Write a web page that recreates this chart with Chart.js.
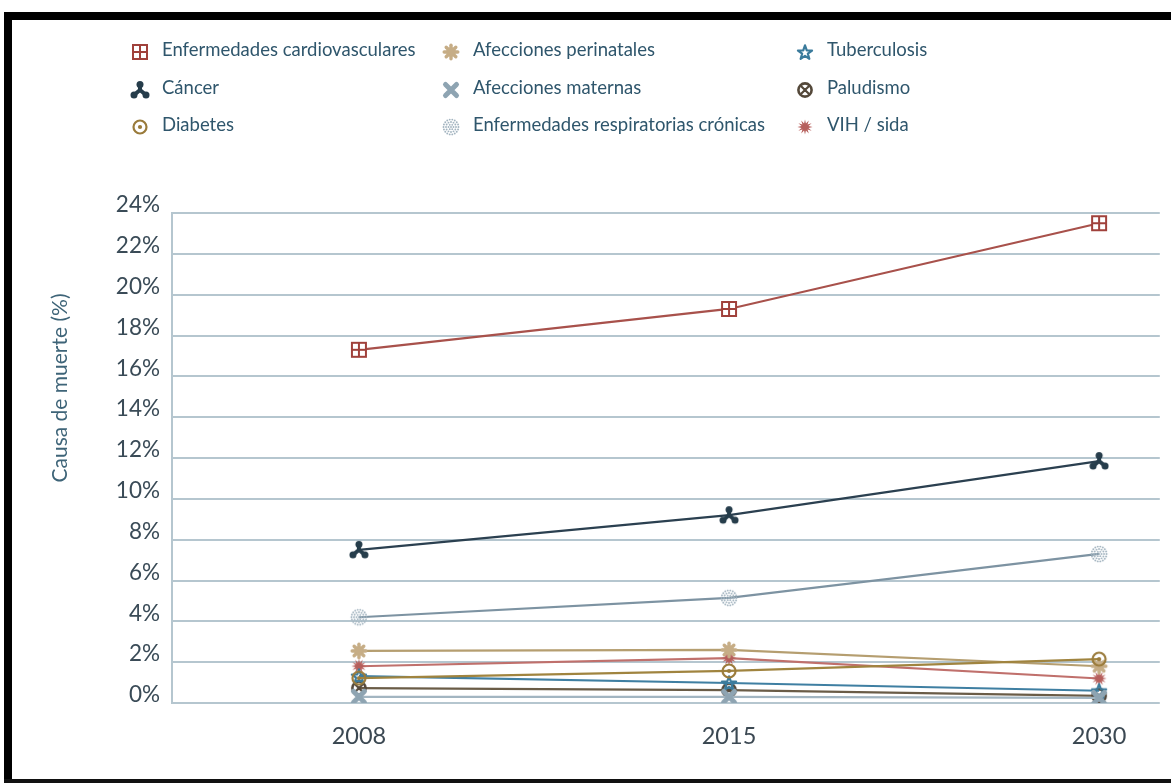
<!DOCTYPE html>
<html>
<head>
<meta charset="utf-8">
<script src="https://cdn.jsdelivr.net/npm/chart.js@4/dist/chart.umd.min.js"></script>
<style>
  body { margin: 0; background: #fff; }
  #wrap { position: relative; width: 1171px; height: 783px; }
  .bar { position: absolute; background: #000; }
</style>
</head>
<body>
<div id="wrap">
  <canvas id="myChart" width="1171" height="783"></canvas>
  <div class="bar" style="left:4px;top:12px;width:1167px;height:8px"></div>
  <div class="bar" style="left:4px;top:12px;width:8px;height:771px"></div>
  <div class="bar" style="left:4px;top:779px;width:1167px;height:4px;background:#111"></div>
</div>
<script>
const years = ["2008", "2015", "2030"];

const cardio = [17.3, 19.3, 23.5];
const cancer = [7.5, 9.2, 11.85];
const diabetes = [1.22, 1.57, 2.15];
const perinatal = [2.55, 2.6, 1.8];
const maternal = [0.3, 0.3, 0.25];
const respiratory = [4.2, 5.15, 7.3];
const tuberculosis = [1.32, 0.98, 0.6];
const paludismo = [0.73, 0.63, 0.35];
const vih = [1.8, 2.2, 1.2];

const yTicks = [0, 2, 4, 6, 8, 10, 12, 14, 16, 18, 20, 22, 24];
const yTitle = "Causa de muerte (%)";

// small canvas markers, used both on the lines and in the legend
function mk(draw) {
  const c = document.createElement("canvas");
  c.width = c.height = 20;
  const g = c.getContext("2d");
  g.translate(10, 10);
  g.lineCap = "round";
  g.lineJoin = "round";
  draw(g);
  return c;
}

const markers = {
  cardio: mk(g => {
    g.fillStyle = "#a0413b";
    g.fillRect(-8, -8, 16, 16);
    g.fillStyle = "#fff";
    g.fillRect(-6, -6, 5, 5); g.fillRect(1, -6, 5, 5);
    g.fillRect(-6, 1, 5, 5); g.fillRect(1, 1, 5, 5);
  }),
  cancer: mk(g => {
    g.strokeStyle = g.fillStyle = "#263d4b";
    g.lineWidth = 4;
    const pts = [[0, -5.5], [-6, 5], [6, 5]];
    pts.forEach(p => {
      g.beginPath(); g.moveTo(0, 0); g.lineTo(p[0], p[1]); g.stroke();
      g.beginPath(); g.arc(p[0], p[1], 3.5, 0, Math.PI * 2); g.fill();
    });
  }),
  diabetes: mk(g => {
    g.strokeStyle = g.fillStyle = "#9a7b3b";
    g.lineWidth = 2.2;
    g.beginPath(); g.arc(0, 0, 6.5, 0, Math.PI * 2); g.stroke();
    g.beginPath(); g.arc(0, 0, 2.1, 0, Math.PI * 2); g.fill();
  }),
  perinatal: mk(g => {
    g.strokeStyle = g.fillStyle = "#c6ad86";
    g.lineWidth = 3.4;
    for (let i = 0; i < 8; i++) {
      const a = i * Math.PI / 4;
      g.beginPath(); g.moveTo(0, 0); g.lineTo(Math.cos(a) * 6.8, Math.sin(a) * 6.8); g.stroke();
    }
    g.beginPath(); g.arc(0, 0, 4.8, 0, Math.PI * 2); g.fill();
  }),
  maternal: mk(g => {
    g.strokeStyle = "#8ea4b2";
    g.lineWidth = 5;
    g.beginPath(); g.moveTo(-5.5, -5.5); g.lineTo(5.5, 5.5); g.moveTo(5.5, -5.5); g.lineTo(-5.5, 5.5); g.stroke();
  }),
  respiratory: mk(g => {
    g.fillStyle = "#a3b4c0";
    [[0, 1], [2.5, 6], [5, 12], [7.5, 18]].forEach(([r, n]) => {
      for (let i = 0; i < n; i++) {
        const a = i * 2 * Math.PI / n;
        g.beginPath(); g.arc(Math.cos(a) * r, Math.sin(a) * r, 0.95, 0, Math.PI * 2); g.fill();
      }
    });
  }),
  tuberculosis: mk(g => {
    g.strokeStyle = "#3b7b9c";
    g.lineWidth = 2.2;
    g.beginPath();
    for (let i = 0; i < 10; i++) {
      const r = i % 2 ? 3 : 7.4;
      const a = -Math.PI / 2 + i * Math.PI / 5;
      g.lineTo(Math.cos(a) * r, Math.sin(a) * r + 0.8);
    }
    g.closePath(); g.stroke();
  }),
  paludismo: mk(g => {
    g.strokeStyle = "#54483a";
    g.lineWidth = 2.6;
    g.beginPath(); g.arc(0, 0, 6.6, 0, Math.PI * 2); g.stroke();
    g.lineWidth = 2.2;
    g.beginPath(); g.moveTo(-3.3, -3.3); g.lineTo(3.3, 3.3); g.moveTo(3.3, -3.3); g.lineTo(-3.3, 3.3); g.stroke();
  }),
  vih: mk(g => {
    g.fillStyle = "#b65f5c";
    g.beginPath();
    for (let i = 0; i < 24; i++) {
      const r = i % 2 ? 3.6 : 7.6;
      const a = i * Math.PI / 12;
      g.lineTo(Math.cos(a) * r, Math.sin(a) * r);
    }
    g.closePath(); g.fill();
  }),
};

function series(label, values, color, marker) {
  return {
    label: label,
    data: values.map((v, i) => ({ x: i, y: v })),
    borderColor: color,
    borderWidth: 2.2,
    pointStyle: markers[marker],
    pointRadius: 9,
    tension: 0,
  };
}

// column-major order, same as the legend grid
const datasets = [
  series("Enfermedades cardiovasculares", cardio, "#a8514b", "cardio"),
  series("Cáncer", cancer, "#2b4050", "cancer"),
  series("Diabetes", diabetes, "#a0843f", "diabetes"),
  series("Afecciones perinatales", perinatal, "#b59e70", "perinatal"),
  series("Afecciones maternas", maternal, "#a2b5c1", "maternal"),
  series("Enfermedades respiratorias crónicas", respiratory, "#7d93a2", "respiratory"),
  series("Tuberculosis", tuberculosis, "#3f7fa2", "tuberculosis"),
  series("Paludismo", paludismo, "#6a5c47", "paludismo"),
  series("VIH / sida", vih, "#c0706c", "vih"),
];
const markerKeys = ["cardio", "cancer", "diabetes", "perinatal", "maternal", "respiratory", "tuberculosis", "paludismo", "vih"];

const gridLegend = {
  id: "gridLegend",
  afterDraw(chart) {
    const ctx = chart.ctx;
    const colMarker = [140, 451, 805];
    const colText = [162, 473, 827];
    const rowY = [50, 88, 125];
    ctx.save();
    ctx.font = "18.5px Lato";
    ctx.fillStyle = "#2f566c";
    ctx.textBaseline = "middle";
    chart.data.datasets.forEach((ds, i) => {
      const col = Math.floor(i / 3), row = i % 3;
      const m = markers[markerKeys[i]];
      ctx.drawImage(m, colMarker[col] - 10, rowY[row] + 2 - 10);
      ctx.fillText(ds.label, colText[col], rowY[row]);
    });
    // y axis title, sits above the axis middle in the original
    ctx.translate(60, 388);
    ctx.rotate(-Math.PI / 2);
    ctx.font = "21px Lato";
    ctx.fillStyle = "#3e6478";
    ctx.textAlign = "center";
    ctx.fillText(yTitle, 0, 0);
    ctx.restore();
  },
};

Chart.defaults.font.family = "Lato";

const config = {
  type: "line",
  data: { datasets: datasets },
  plugins: [gridLegend],
  options: {
    responsive: false,
    animation: false,
    layout: { padding: { top: 213, right: 6, left: 0, bottom: 0 } },
    plugins: {
      legend: { display: false },
      tooltip: { enabled: false },
    },
    scales: {
      x: {
        type: "linear",
        min: -0.505,
        max: 2.164,
        afterBuildTicks: s => { s.ticks = years.map((y, i) => ({ value: i })); },
        afterFit: s => { s.height = 80; },
        ticks: {
          callback: v => years[v],
          font: { size: 23.5 },
          color: "#3b4852",
          padding: 11,
        },
        grid: { display: false },
        border: { display: false },
      },
      y: {
        min: 0,
        max: 24,
        afterBuildTicks: s => { s.ticks = yTicks.map(v => ({ value: v })); },
        afterFit: s => { s.width = 172; },
        ticks: {
          callback: v => v + "%",
          font: { size: 22.5 },
          color: "#3a4b57",
          padding: 12,
          labelOffset: -8,
        },
        grid: { color: "#b5c6cf", lineWidth: 2, drawTicks: false },
        border: { color: "#b5c6cf", width: 2 },
      },
    },
  },
};

const myChart = new Chart(document.getElementById("myChart").getContext("2d"), config);
</script>
</body>
</html>
